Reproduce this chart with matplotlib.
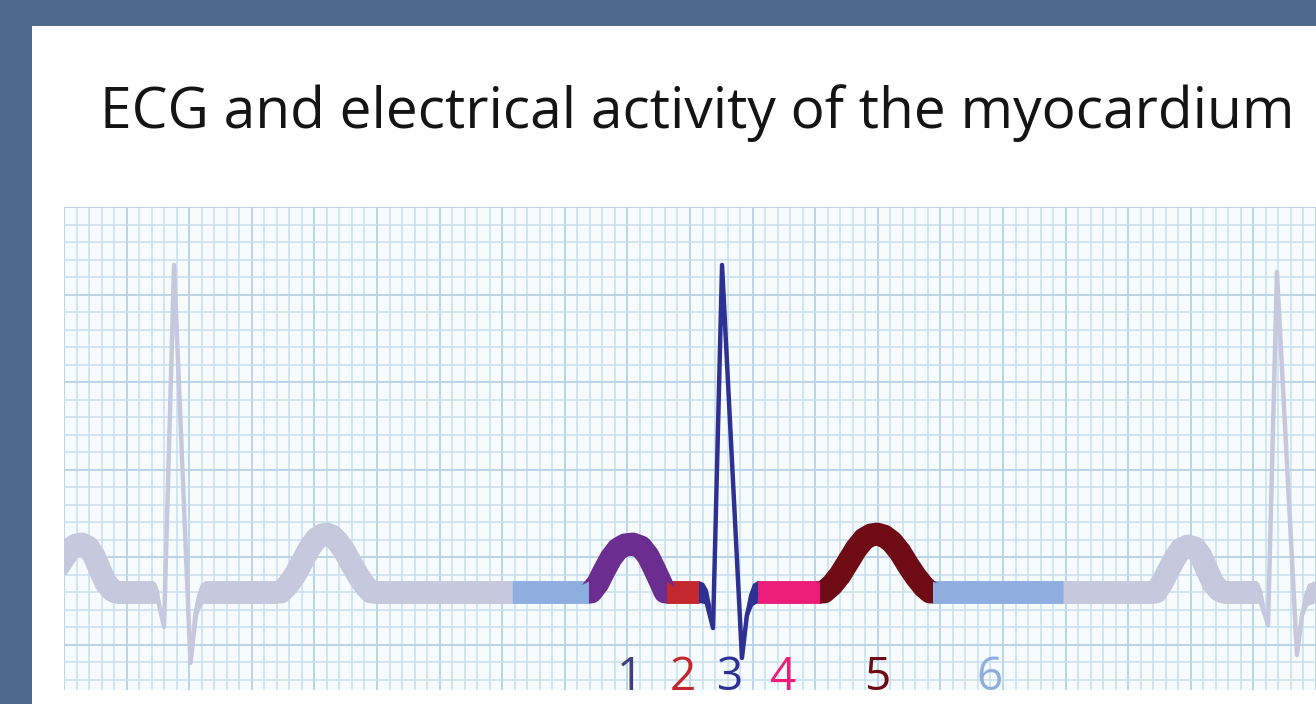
import matplotlib
matplotlib.use("Agg")
import matplotlib.pyplot as plt
import numpy as np
from matplotlib.patches import Rectangle

# ECG trace, x in small grid squares from the left edge of the strip,
# y in small grid squares above the isoelectric line

# left (faded) beat
p0_x = [-0.6, 0.0, 0.48, 0.96, 1.44, 1.92, 2.4, 2.88, 3.35, 3.83, 4.1, 4.3]
p0_y = [1.3, 1.94, 2.46, 2.69, 2.74, 2.57, 2.06, 1.26, 0.51, 0.11, 0.0, 0.0]
qrs0_x = [7.11, 7.51, 7.99, 8.79, 10.1, 10.54, 11.1, 11.4]
qrs0_y = [0.0, -0.46, -2.0, 18.69, -4.06, -1.31, -0.23, 0.0]
q0_x = [7.03, 7.35, 7.59, 7.75, 7.99, 7.75, 7.43, 7.03]
q0_y = [0.63, 0.51, 0.11, -0.74, -2.0, -1.14, -0.69, -0.63]
s0_x = [10.06, 10.3, 10.62, 10.94, 11.34, 11.34, 10.94, 10.54, 10.22]
s0_y = [-3.6, -1.31, -0.17, 0.46, 0.63, -0.63, -0.8, -1.49, -3.03]
t0_x = [17.01, 17.33, 17.89, 18.45, 19.01, 19.57, 20.13, 20.61, 21.01,
        21.41, 21.88, 22.44, 23.0, 23.56, 24.12, 24.52, 24.76]
t0_y = [0.0, 0.0, 0.4, 0.97, 1.71, 2.46, 3.03, 3.26, 3.31,
        3.2, 2.86, 2.29, 1.54, 0.86, 0.29, 0.0, 0.0]

# highlighted beat
p1_x = [41.93, 42.1, 42.65, 43.13, 43.69, 44.25, 44.81, 45.45, 46.09,
        46.65, 47.2, 47.68, 48.0, 48.16]
p1_y = [0.0, 0.0, 0.51, 1.2, 1.94, 2.46, 2.69, 2.74, 2.57,
        2.06, 1.26, 0.51, 0.0, 0.0]
qrs1_x = [50.8, 51.28, 51.84, 52.56, 54.15, 54.55, 54.95, 55.35]
qrs1_y = [0.0, -0.46, -2.06, 18.69, -3.77, -1.31, -0.34, 0.0]
q1_x = [50.72, 51.12, 51.44, 51.68, 51.92, 51.6, 51.2, 50.72]
q1_y = [0.63, 0.51, 0.11, -0.74, -2.17, -1.14, -0.69, -0.63]
s1_x = [54.15, 54.39, 54.71, 55.03, 55.43, 55.43, 55.03, 54.63, 54.31]
s1_y = [-3.31, -1.31, -0.17, 0.46, 0.63, -0.63, -0.8, -1.49, -3.03]
t1_x = [60.38, 60.7, 61.34, 61.98, 62.62, 63.26, 63.9, 64.46, 64.94,
        65.5, 66.13, 66.77, 67.41, 68.05, 68.69, 69.17, 69.41]
t1_y = [0.0, 0.0, 0.4, 0.97, 1.71, 2.46, 3.03, 3.26, 3.31,
        3.2, 2.86, 2.29, 1.54, 0.86, 0.29, 0.0, 0.0]

# right (faded) beat
p2_x = [86.98, 87.22, 87.7, 88.18, 88.74, 89.22, 89.78, 90.34, 90.81,
        91.29, 91.77, 92.25, 92.57, 92.73]
p2_y = [0.0, 0.0, 0.51, 1.2, 1.94, 2.46, 2.63, 2.51, 2.06,
        1.26, 0.51, 0.11, 0.0, 0.0]
qrs2_x = [95.13, 95.53, 96.17, 96.88, 98.48, 98.88, 99.44, 100.0]
qrs2_y = [0.0, -0.46, -1.89, 18.29, -3.6, -1.31, -0.29, 0.0]
q2_x = [95.13, 95.45, 95.69, 95.93, 96.17, 95.93, 95.53, 95.13]
q2_y = [0.63, 0.51, 0.11, -0.74, -1.94, -1.14, -0.69, -0.63]
s2_x = [98.48, 98.72, 99.04, 99.36, 100.0, 100.0, 99.36, 98.96, 98.64]
s2_y = [-3.2, -1.31, -0.17, 0.46, 0.63, -0.63, -0.8, -1.49, -2.74]

# flat stretches (start, end) on the baseline
gray_flats = [(4.1, 7.15), (11.25, 17.1), (24.65, 35.8), (79.75, 87.1), (92.6, 95.25)]
tp_before = (35.78, 41.98)
pr_seg = (48.1, 50.75)
st_seg = (55.35, 60.45)
tp_after = (69.35, 79.79)

labels = ["1", "2", "3", "4", "5", "6"]
label_x = [45.2, 49.44, 53.19, 57.43, 64.94, 73.96]

title = "ECG and electrical activity of the myocardium"

BORDER = "#4d6a8e"
GRAY = "#c6c9dd"
LIGHTBLUE = "#8eaee0"
PURPLE = "#6b2d90"
RED = "#c4282f"
NAVY = "#2e3192"
PINK = "#ec1e79"
MAROON = "#6e0b15"
label_colors = ["#41407f", RED, NAVY, PINK, MAROON, LIGHTBLUE]

FONT = ["Liberation Sans Narrow", "Open Sans", "DejaVu Sans"]
THICK = 16.5
THIN = 3.2

fig = plt.figure(figsize=(13.16, 7.04), dpi=100)
fig.patch.set_facecolor(BORDER)
fig.patches.append(Rectangle((32 / 1316, 0), 1, 1 - 26 / 704, transform=fig.transFigure,
                             facecolor="white", edgecolor="none", zorder=-5))

ax = fig.add_axes([64 / 1316, 14 / 704, 1 - 64 / 1316, 483 / 704])
ax.set_facecolor("#f6fcfe")
ax.set_xlim(0, 100)
ax.set_ylim(-5.6, 22.0)
ax.set_xticks(np.arange(0, 101, 5))
ax.set_xticks(np.arange(0, 101, 1), minor=True)
ax.set_yticks(np.arange(22, -6, -5))
ax.set_yticks(np.arange(22, -6, -1), minor=True)
ax.grid(which="minor", color="#c9dfee", lw=1.1)
ax.grid(which="major", color="#b7d1e5", lw=1.3)
ax.tick_params(which="both", length=0, labelbottom=False, labelleft=False)
for s in ax.spines.values():
    s.set_visible(False)
ax.set_axisbelow(True)


def band(x, y, color, lw=THICK, z=2):
    ax.plot(x, y, color=color, lw=lw, solid_capstyle="butt",
            solid_joinstyle="round", zorder=z)


def wedge(x, y, color):
    ax.fill(x, y, color=color, lw=0, zorder=3)


# faded beats
for a, b in gray_flats:
    band([a, b], [0, 0], GRAY)
band(p0_x, p0_y, GRAY)
band(t0_x, t0_y, GRAY)
band(p2_x, p2_y, GRAY)
band(qrs0_x, qrs0_y, GRAY, lw=THIN, z=3)
band(qrs2_x, qrs2_y, GRAY, lw=THIN, z=3)
for wx, wy in [(q0_x, q0_y), (s0_x, s0_y), (q2_x, q2_y), (s2_x, s2_y)]:
    wedge(wx, wy, GRAY)

# highlighted beat
band(list(tp_before), [0, 0], LIGHTBLUE)
band(list(pr_seg), [0, 0], RED)
band(list(st_seg), [0, 0], PINK)
band(list(tp_after), [0, 0], LIGHTBLUE)
band(p1_x, p1_y, PURPLE)
band(t1_x, t1_y, MAROON)
band(qrs1_x, qrs1_y, NAVY, lw=THIN, z=3)
wedge(q1_x, q1_y, NAVY)
wedge(s1_x, s1_y, NAVY)

for s, x, c in zip(labels, label_x, label_colors):
    ax.text(x, -5.6, s, color=c, fontsize=33, ha="center", va="baseline",
            family=FONT, clip_on=False)

t = fig.text(697.5 / 1316, 1 - 128 / 704, title, fontsize=60, ha="center",
             va="baseline", color="#141414", family=FONT)
renderer = fig.canvas.get_renderer()
w = t.get_window_extent(renderer).width
t.set_fontsize(60 * 1195 / w)

fig.savefig("out.png", dpi=100, facecolor=fig.get_facecolor())
